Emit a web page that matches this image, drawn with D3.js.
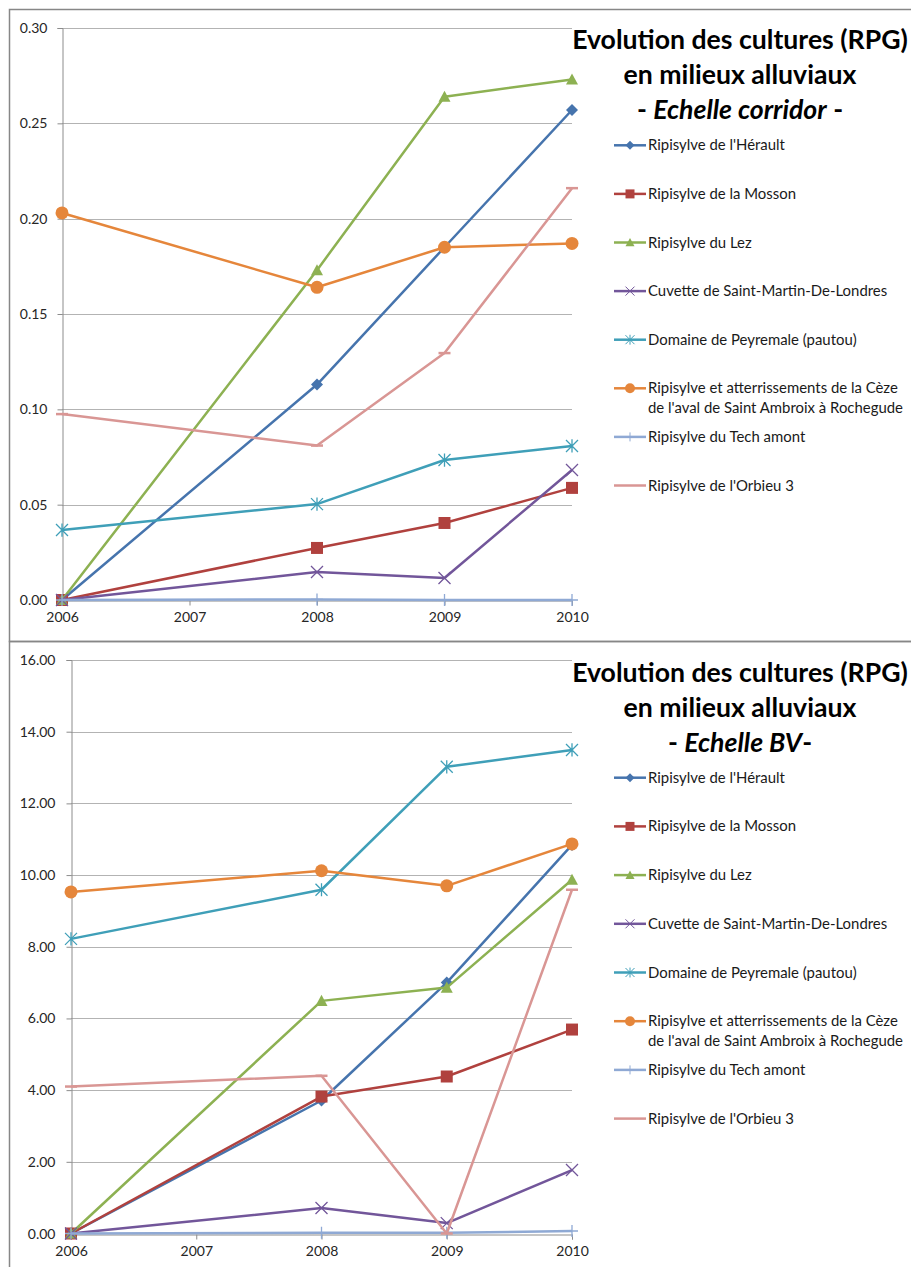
<!DOCTYPE html>
<html>
<head>
<meta charset="utf-8">
<script src="https://cdn.jsdelivr.net/npm/d3@7"></script>
<style>
  body { margin: 0; background: #fff; }
  svg { display: block; font-family: Lato, "Open Sans", sans-serif; }
</style>
</head>
<body>
<div id="chart"></div>
<script>
// Data
const years = [2006, 2008, 2009, 2010];
const axisYears = [2006, 2007, 2008, 2009, 2010];
const seriesNames = [
  "Ripisylve de l'Hérault",
  "Ripisylve de la Mosson",
  "Ripisylve du Lez",
  "Cuvette de Saint-Martin-De-Londres",
  "Domaine de Peyremale (pautou)",
  ["Ripisylve et atterrissements de la Cèze", "de l'aval de Saint Ambroix à Rochegude"],
  "Ripisylve du Tech amont",
  "Ripisylve de l'Orbieu 3"
];
const corridorValues = [
  [0, 0.113, 0.185, 0.257],
  [0, 0.0273, 0.0404, 0.0588],
  [0, 0.173, 0.264, 0.273],
  [0, 0.0147, 0.0115, 0.0682],
  [0.0367, 0.0503, 0.0734, 0.0808],
  [0.203, 0.164, 0.185, 0.187],
  [0, 0.0003, 0, 0],
  [0.0975, 0.081, 0.1295, 0.216]
];
const bvValues = [
  [0, 3.71, 7.0, 10.84],
  [0, 3.82, 4.38, 5.69],
  [0, 6.49, 6.86, 9.87],
  [0, 0.71, 0.29, 1.77],
  [8.22, 9.59, 13.02, 13.49],
  [9.53, 10.12, 9.70, 10.87],
  [0, 0.02, 0.02, 0.07],
  [4.10, 4.40, 0, 9.59]
];
const corridorTicks = [0, 0.05, 0.10, 0.15, 0.20, 0.25, 0.30];
const bvTicks = [0, 2, 4, 6, 8, 10, 12, 14, 16];

// styles
const seriesColors = ["#4674ad", "#b0413e", "#8db152", "#72569a", "#3f9fb8", "#e5863b", "#8fa9d4", "#d99694"];
const markerTypes = ["diamond", "square", "triangle", "x", "asterisk", "circle", "plus", "dash"];

// marker paths, s = half size
function markerPath(type, s) {
  switch (type) {
    case "diamond": return `M0,${-s}L${s},0L0,${s}L${-s},0Z`;
    case "square": return `M${-s},${-s}H${s}V${s}H${-s}Z`;
    case "triangle": return `M0,${-s}L${s},${s * 0.85}L${-s},${s * 0.85}Z`;
    case "circle": return d3.symbol(d3.symbolCircle, Math.PI * s * s)();
    case "x": return `M${-s},${-s}L${s},${s}M${-s},${s}L${s},${-s}`;
    case "asterisk": return `M${-s},${-s}L${s},${s}M${-s},${s}L${s},${-s}M0,${-s * 1.1}V${s * 1.1}`;
    case "plus": return `M0,${-s}V${s}M${-s},0H${s}`;
    case "dash": return `M${-s},0H${s}`;
  }
}
const filled = t => ["diamond", "square", "triangle", "circle"].includes(t);

const svg = d3.select("#chart").append("svg")
  .attr("width", 911)
  .attr("height", 1267);

// font size that gives a text the width measured on the picture
function fitSize(str, width, weight) {
  let t = svg.append("text").attr("font-size", 100).attr("font-weight", weight || "normal").text(str);
  let w = t.node().getComputedTextLength();
  t.remove();
  return 100 * width / w;
}
const tickSize = fitSize("0.30", 27.7);
const legendSize = fitSize("Ripisylve et atterrissements de la Cèze", 250);
const titleSize = fitSize("Evolution des cultures (RPG)", 336, "bold");

function createLineChart(cfg, values, ticks) {
  // frame
  svg.append("rect")
    .attr("x", 9.5).attr("y", cfg.frameY + 0.5)
    .attr("width", 1000).attr("height", cfg.frameH)
    .attr("fill", "none").attr("stroke", "#878787").attr("stroke-width", 1.5);

  let x = d3.scaleLinear().domain([2006, 2010]).range([cfg.x0, cfg.x1]);
  let y = d3.scaleLinear().domain([0, cfg.yMax]).range([cfg.yBot, cfg.yTop]);

  // gridlines
  svg.append("g")
    .selectAll("line")
    .data(ticks.filter(d => d > 0))
    .enter().append("line")
    .attr("x1", cfg.x0).attr("x2", cfg.x1)
    .attr("y1", d => Math.round(y(d)) + 0.5).attr("y2", d => Math.round(y(d)) + 0.5)
    .attr("stroke", "#b3b3b3");

  // y axis
  let yAxis = svg.append("g")
    .attr("transform", "translate(" + (cfg.x0 + 0.5) + ",0)")
    .call(d3.axisLeft(y).tickValues(ticks).tickFormat(d3.format(".2f")).tickSize(5).tickPadding(cfg.yPad));
  yAxis.select(".domain").attr("stroke", "#8c8c8c");
  yAxis.selectAll(".tick line").attr("stroke", "#8c8c8c");
  yAxis.selectAll("text").attr("font-size", tickSize).attr("fill", "#262626").attr("font-family", "Lato");

  // x axis
  let xAxis = svg.append("g")
    .attr("transform", "translate(0," + (Math.round(cfg.yBot) + 0.5) + ")")
    .call(d3.axisBottom(x).tickValues(axisYears).tickFormat(d3.format("d")).tickSize(5).tickPadding(7));
  xAxis.select(".domain").attr("stroke", "#8c8c8c");
  xAxis.selectAll(".tick line").attr("stroke", "#8c8c8c");
  xAxis.selectAll("text").attr("font-size", tickSize).attr("fill", "#262626").attr("font-family", "Lato");

  let line = d3.line()
    .x((d, i) => x(years[i]))
    .y(d => y(d));

  values.forEach(function(row, k) {
    let g = svg.append("g");
    g.append("path")
      .attr("d", line(row))
      .attr("fill", "none")
      .attr("stroke", seriesColors[k])
      .attr("stroke-width", 2.5)
      .attr("stroke-linejoin", "round");
    g.selectAll("path.m")
      .data(row)
      .enter().append("path")
      .attr("class", "m")
      .attr("transform", (d, i) => "translate(" + x(years[i]) + "," + y(d) + ")")
      .attr("d", markerPath(markerTypes[k], markerTypes[k] == "circle" ? 6.5 : 6))
      .attr("fill", filled(markerTypes[k]) ? seriesColors[k] : "none")
      .attr("stroke", seriesColors[k])
      .attr("stroke-width", filled(markerTypes[k]) ? 0 : (markerTypes[k] == "dash" ? 2.5 : 1.3));
  });

  // title
  let title = svg.append("text")
    .attr("text-anchor", "middle")
    .attr("font-weight", "bold")
    .attr("fill", "#000")
    .attr("font-size", titleSize);
  title.append("tspan").attr("x", 740).attr("y", cfg.titleY).text("Evolution des cultures (RPG)");
  title.append("tspan").attr("x", 740).attr("y", cfg.titleY + 35).text("en milieux alluviaux");
  let l3 = title.append("tspan").attr("x", 740).attr("y", cfg.titleY + 35 * 2);
  l3.append("tspan").text("- ");
  l3.append("tspan").attr("font-style", "italic").text(cfg.subtitle);
  l3.append("tspan").text(cfg.subtitleEnd);

  // legend
  seriesNames.forEach(function(name, k) {
    let ly = cfg.legendY + k * cfg.legendStep;
    let g = svg.append("g").attr("transform", "translate(0," + ly + ")");
    g.append("line")
      .attr("x1", 614).attr("x2", 646).attr("y1", 0).attr("y2", 0)
      .attr("stroke", seriesColors[k]).attr("stroke-width", 2.5);
    if (markerTypes[k] != "dash") {
      g.append("path")
        .attr("transform", "translate(630,0)")
        .attr("d", markerPath(markerTypes[k], markerTypes[k] == "circle" ? 5 : 4.5))
        .attr("fill", filled(markerTypes[k]) ? seriesColors[k] : "none")
        .attr("stroke", seriesColors[k])
        .attr("stroke-width", filled(markerTypes[k]) ? 0 : 1);
    }
    let lines = Array.isArray(name) ? name : [name];
    let t = g.append("text").attr("font-size", legendSize).attr("fill", "#1a1a1a");
    lines.forEach(function(s, j) {
      t.append("tspan").attr("x", 648).attr("y", 5 + j * 19.5).text(s);
    });
  });
}

createLineChart({
  frameY: 9, frameH: 632,
  x0: 62, x1: 572, yTop: 28, yBot: 600, yMax: 0.30, yPad: 10,
  titleY: 48.5, subtitle: "Echelle corridor", subtitleEnd: " -",
  legendY: 145.3, legendStep: 48.6
}, corridorValues, corridorTicks);

createLineChart({
  frameY: 641, frameH: 700,
  x0: 71, x1: 572, yTop: 660, yBot: 1233.5, yMax: 16, yPad: 11,
  titleY: 681.5, subtitle: "Echelle BV", subtitleEnd: "-",
  legendY: 777.7, legendStep: 48.7
}, bvValues, bvTicks);
</script>
</body>
</html>
